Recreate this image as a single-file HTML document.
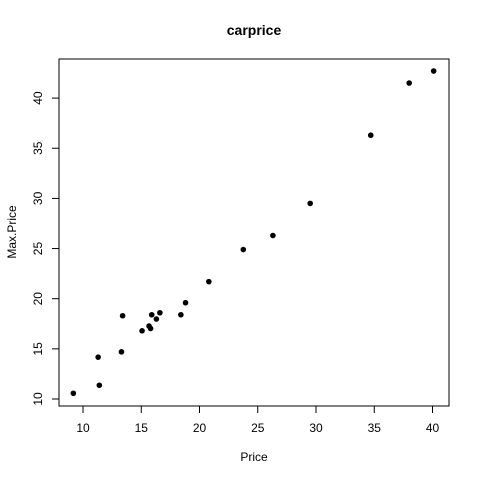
<!DOCTYPE html>
<html><head><meta charset="utf-8"><style>
body{margin:0;background:#fff;}
text{font-family:"Liberation Sans",sans-serif;fill:#000;}
</style></head><body>
<svg id="chart" width="480" height="480" xmlns="http://www.w3.org/2000/svg">
<text x="254" y="35" text-anchor="middle" font-size="14" font-weight="bold">carprice</text>
<rect x="59" y="59" width="390" height="347" fill="none" stroke="#000" stroke-width="1"/>
<g id="xaxis"></g>
<g id="yaxis"></g>
<g id="points"></g>
<text x="254" y="461" text-anchor="middle" font-size="12">Price</text>
<text transform="translate(16,232) rotate(-90)" text-anchor="middle" font-size="12">Max.Price</text>
</svg>
<script>
const price = [9.17,11.4,11.3,13.3,13.4,15.07,15.67,15.8,15.9,16.3,16.6,18.4,18.8,20.8,23.76,26.3,29.5,34.7,38.0,40.1];
const maxPrice = [10.57,11.37,14.17,14.7,18.3,16.8,17.27,17.03,18.4,17.97,18.6,18.4,19.6,21.7,24.9,26.3,29.5,36.3,41.5,42.7];
const xTicks = [10,15,20,25,30,35,40];
const yTicks = [10,15,20,25,30,35,40];
const NS="http://www.w3.org/2000/svg";
function sx(v){return 83+(v-10)*11.65;}
function sy(v){return 399-(v-10)*10.03;}
function mk(tag,attrs,parent){const e=document.createElementNS(NS,tag);for(const k in attrs)e.setAttribute(k,attrs[k]);parent.appendChild(e);return e;}
const xa=document.getElementById('xaxis'),ya=document.getElementById('yaxis'),pg=document.getElementById('points');
mk('line',{x1:sx(xTicks[0]),x2:sx(xTicks[xTicks.length-1]),y1:406,y2:406,stroke:'#000'},xa);
xTicks.forEach(t=>{
  const l=mk('line',{x1:sx(t),x2:sx(t),y1:406,y2:413,stroke:'#000'},xa);
  
  
  const tx=mk('text',{x:sx(t),y:432,'text-anchor':'middle','font-size':12},xa);
  tx.textContent=t;
  
  
});
mk('line',{x1:59,x2:59,y1:sy(yTicks[0]),y2:sy(yTicks[yTicks.length-1]),stroke:'#000'},ya);
yTicks.forEach(t=>{
  const l=mk('line',{x1:52,x2:59,y1:sy(t),y2:sy(t),stroke:'#000'},ya);
  
  
  const tx=mk('text',{transform:`translate(42,${sy(t)}) rotate(-90)`,'text-anchor':'middle','font-size':12},ya);
  tx.textContent=t;
  
  
});
price.forEach((p,i)=>{
  const c=mk('circle',{cx:sx(p),cy:sy(maxPrice[i]),r:2.8,fill:'#000'},pg);
  
  
});
</script>
</body></html>
